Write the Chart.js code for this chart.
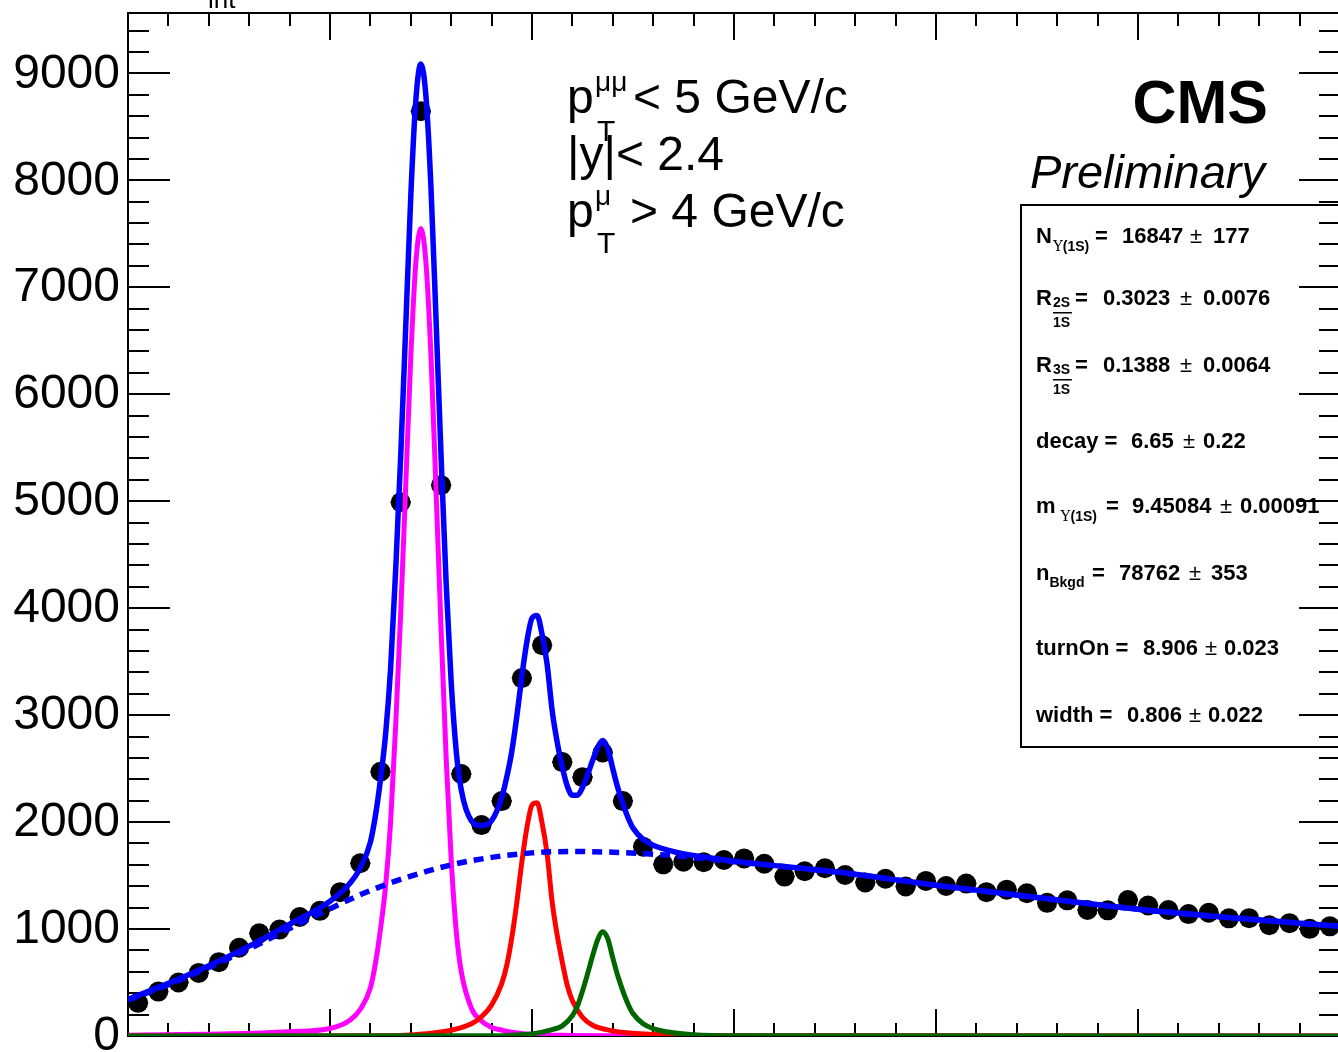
<!DOCTYPE html>
<html>
<head>
<meta charset="utf-8">
<script src="https://cdn.jsdelivr.net/npm/chart.js@4.4.0/dist/chart.umd.min.js"></script>
<style>
  html, body { margin: 0; padding: 0; background: #fff; overflow: hidden; }
</style>
</head>
<body>
<canvas id="massChart" width="1341" height="1052"></canvas>
<script>
// DATA - dimuon mass histogram (0.1 GeV bins)
const binMass = [8.05, 8.15, 8.25, 8.35, 8.45, 8.55, 8.65, 8.75, 8.85, 8.95,
                 9.05, 9.15, 9.25, 9.35, 9.45, 9.55, 9.65, 9.75, 9.85, 9.95,
                 10.05, 10.15, 10.25, 10.35, 10.45, 10.55, 10.65, 10.75, 10.85, 10.95,
                 11.05, 11.15, 11.25, 11.35, 11.45, 11.55, 11.65, 11.75, 11.85, 11.95,
                 12.05, 12.15, 12.25, 12.35, 12.45, 12.55, 12.65, 12.75, 12.85, 12.95,
                 13.05, 13.15, 13.25, 13.35, 13.45, 13.55, 13.65, 13.75, 13.85, 13.95];
const binCounts = [310, 415, 500, 590, 690, 825, 960, 995, 1113, 1170,
                   1345, 1615, 2470, 4990, 8645, 5150, 2449, 1972, 2196, 3346,
                   3654, 2561, 2420, 2650, 2196, 1770, 1605, 1630, 1625, 1645,
                   1660, 1610, 1490, 1540, 1568, 1505, 1435, 1470, 1398, 1450,
                   1402, 1425, 1345, 1368, 1335, 1245, 1268, 1178, 1175, 1271,
                   1220, 1178, 1140, 1152, 1100, 1102, 1035, 1055, 1002, 1025];
const binHalfWidth = 0.05;

// total fit (blue solid)
const fitMass = [8.0, 8.2, 8.4, 8.6, 8.8, 9.0, 9.1, 9.15, 9.2, 9.225,
                 9.25, 9.275, 9.3, 9.325, 9.35, 9.375, 9.4, 9.425, 9.45, 9.475,
                 9.5, 9.525, 9.55, 9.575, 9.6, 9.625, 9.65, 9.7, 9.75, 9.8,
                 9.85, 9.875, 9.9, 9.925, 9.95, 9.975, 10.0, 10.025, 10.05, 10.075,
                 10.1, 10.125, 10.15, 10.175, 10.2, 10.225, 10.25, 10.275, 10.3, 10.325,
                 10.35, 10.375, 10.4, 10.425, 10.45, 10.475, 10.5, 10.55, 10.6, 10.7,
                 10.8, 11.0, 11.5, 12.0, 12.5, 13.0, 13.5, 14.0];
const fitTotal = [343, 492, 657, 840, 1045, 1260, 1430, 1572, 1813, 2061,
                  2400, 2817, 3435, 4352, 5419, 6636, 7855, 8752, 9088, 8785,
                  7927, 6695, 5415, 4234, 3305, 2660, 2299, 2012, 1969, 2013,
                  2230, 2420, 2660, 2990, 3367, 3691, 3907, 3932, 3752, 3473,
                  3039, 2744, 2514, 2335, 2250, 2250, 2323, 2442, 2575, 2699,
                  2763, 2686, 2498, 2318, 2170, 2043, 1944, 1838, 1784, 1724,
                  1687, 1635, 1535, 1410, 1295, 1185, 1100, 1025];

// background (blue dashed)
const bkgMass = [8.0, 8.2, 8.4, 8.6, 8.8, 9.0, 9.2, 9.4, 9.6, 9.8, 10.0,
                 10.2, 10.4, 10.6, 10.8, 11.0, 11.5, 12.0, 12.5, 13.0, 13.5, 14.0];
const bkgVal = [335, 480, 640, 815, 1005, 1190, 1360, 1495, 1600, 1670, 1712,
                1725, 1718, 1700, 1670, 1630, 1535, 1410, 1295, 1185, 1100, 1025];

// Upsilon(1S) (magenta)
const ups1Mass = [8.0, 8.5, 8.8, 9.0, 9.1, 9.15, 9.2, 9.225, 9.25, 9.275,
                  9.3, 9.325, 9.35, 9.375, 9.4, 9.425, 9.45, 9.475, 9.5, 9.525,
                  9.55, 9.575, 9.6, 9.625, 9.65, 9.7, 9.75, 9.8, 9.85, 9.9,
                  10.0, 10.2, 10.5, 14.0];
const ups1Val = [8, 20, 40, 70, 150, 250, 450, 680, 1000, 1400,
                 2000, 2900, 3950, 5150, 6350, 7230, 7550, 7230, 6350, 5100,
                 3800, 2600, 1650, 980, 600, 260, 140, 80, 55, 35,
                 15, 5, 0, 0];

// Upsilon(2S) (red)
const ups2Mass = [8.0, 9.3, 9.4, 9.5, 9.6, 9.7, 9.75, 9.8, 9.85, 9.875,
                  9.9, 9.925, 9.95, 9.975, 10.0, 10.025, 10.05, 10.075, 10.1, 10.125,
                  10.15, 10.175, 10.2, 10.25, 10.3, 10.4, 10.5, 10.7, 11.0, 14.0];
const ups2Val = [0, 3, 10, 25, 55, 115, 180, 290, 490, 660,
                 920, 1250, 1630, 1950, 2160, 2180, 1990, 1700, 1250, 940,
                 690, 470, 330, 175, 100, 48, 25, 8, 2, 0];

// Upsilon(3S) (green)
const ups3Mass = [8.0, 9.8, 9.9, 10.0, 10.1, 10.15, 10.2, 10.225, 10.25, 10.275,
                  10.3, 10.325, 10.35, 10.375, 10.4, 10.425, 10.45, 10.475, 10.5, 10.55,
                  10.6, 10.7, 10.8, 11.0, 14.0];
const ups3Val = [0, 3, 8, 20, 60, 95, 190, 280, 420, 580,
                 750, 900, 975, 910, 730, 560, 420, 300, 210, 115,
                 70, 30, 12, 3, 0];

// axes
const xMin = 8, xMax = 14;
const yMin = 0, yMax = 9564;
const yTickLabels = [0, 1000, 2000, 3000, 4000, 5000, 6000, 7000, 8000, 9000];

function pts(xs, ys) {
    return xs.map((x, i) => ({ x: x, y: ys[i] }));
}

const SANS = '"Liberation Sans", Arial, sans-serif';

// ROOT-like frame, inward ticks, error bars
const rootFrame = {
    id: 'rootFrame',
    beforeDatasetsDraw(chart) {
        const { ctx, chartArea: a, scales: { x, y } } = chart;
        ctx.save();

        // stats box first, so the ticks sit on top of it
        ctx.fillStyle = '#fff';
        ctx.fillRect(1021, 205, 400, 542);
        ctx.strokeStyle = '#000';
        ctx.lineWidth = 2;
        ctx.strokeRect(1021, 205, 400, 542);

        ctx.strokeRect(a.left, a.top, a.right - a.left, a.bottom - a.top);

        // y ticks
        for (let v = 0; v <= yMax; v += 200) {
            const py = Math.round(y.getPixelForValue(v));
            const major = v % 1000 === 0;
            ctx.beginPath();
            ctx.moveTo(a.left, py);
            ctx.lineTo(a.left + (major ? 42 : 21), py);
            ctx.moveTo(a.right, py);
            ctx.lineTo(a.right - (major ? 41 : 21), py);
            ctx.stroke();
        }
        // x ticks
        for (let i = 0; i <= 30; i++) {
            const px = Math.round(x.getPixelForValue(xMin + i * 0.2));
            const major = i % 5 === 0;
            ctx.beginPath();
            ctx.moveTo(px, a.bottom);
            ctx.lineTo(px, a.bottom - (major ? 27 : 13));
            ctx.moveTo(px, a.top);
            ctx.lineTo(px, a.top + (major ? 27 : 13));
            ctx.stroke();
        }
        // y labels
        ctx.fillStyle = '#000';
        ctx.font = '48px ' + SANS;
        ctx.textAlign = 'right';
        ctx.textBaseline = 'middle';
        yTickLabels.forEach(v => ctx.fillText(String(v), 120, y.getPixelForValue(v) + 1));

        // horizontal error bars of the data points
        ctx.lineWidth = 2;
        binMass.forEach((m, i) => {
            const py = y.getPixelForValue(binCounts[i]);
            ctx.beginPath();
            ctx.moveTo(x.getPixelForValue(m - binHalfWidth), py);
            ctx.lineTo(x.getPixelForValue(m + binHalfWidth), py);
            ctx.stroke();
        });
        ctx.restore();
    },
    afterDatasetsDraw(chart) {
        const ctx = chart.ctx;
        ctx.save();
        ctx.fillStyle = '#000';
        ctx.textAlign = 'left';
        ctx.textBaseline = 'alphabetic';
        // draw text, return x where it ends
        const t = (s, x, y, f) => { ctx.font = f; ctx.fillText(s, x, y); return x + ctx.measureText(s).width; };

        // cropped lumi label
        t('int', 208, 8, '26px ' + SANS);

        // cuts
        const big = '48px ' + SANS;
        t('p', 567, 113, big);
        t('\u03bc\u03bc', 595, 91, '28px ' + SANS);
        t('T', 597, 141, '30px ' + SANS);
        t('< 5 GeV/c', 633, 113, big);
        t('|y|< 2.4', 567, 170, big);
        t('p', 567, 227, big);
        t('\u03bc', 595, 205, '28px ' + SANS);
        t('T', 597, 253, '30px ' + SANS);
        t('> 4 GeV/c', 630, 227, big);

        // CMS Preliminary
        ctx.textAlign = 'right';
        t('CMS', 1268, 123, 'bold 61px ' + SANS);
        t('Preliminary', 1265, 188, 'italic 47px ' + SANS);
        ctx.textAlign = 'left';

        // fit parameters
        const B = 'bold 22px ' + SANS, N = '22px ' + SANS;
        const S = 'bold 14px ' + SANS, U = '15px "DejaVu Serif", serif';
        const pm = '\u00b1';
        const ups = '\u03a5';
        let e;

        e = t('N', 1036, 243, B); e = t(ups, e + 1, 251, U); t('(1S)', e, 251, S);
        t('=', 1095, 243, B); t('16847', 1122, 243, B); t(pm, 1190, 243, N); t('177', 1213, 243, B);

        e = t('R', 1036, 305, B); t('2S', e + 1, 307, S);
        ctx.fillRect(e + 1, 312, 19, 1.5); t('1S', e + 1, 327, S);
        t('=', 1075, 305, B); t('0.3023', 1103, 305, B); t(pm, 1180, 305, N); t('0.0076', 1203, 305, B);

        e = t('R', 1036, 372, B); t('3S', e + 1, 374, S);
        ctx.fillRect(e + 1, 379, 19, 1.5); t('1S', e + 1, 394, S);
        t('=', 1075, 372, B); t('0.1388', 1103, 372, B); t(pm, 1180, 372, N); t('0.0064', 1203, 372, B);

        t('decay =', 1036, 448, B); t('6.65', 1131, 448, B); t(pm, 1183, 448, N); t('0.22', 1203, 448, B);

        e = t('m', 1036, 513, B); e = t(ups, e + 5, 521, U); t('(1S)', e, 521, S);
        t('=', 1106, 513, B); t('9.45084', 1132, 513, B); t(pm, 1220, 513, N); t('0.00091', 1240, 513, B);

        e = t('n', 1036, 580, B); t('Bkgd', e, 587, S);
        t('=', 1092, 580, B); t('78762', 1119, 580, B); t(pm, 1189, 580, N); t('353', 1211, 580, B);

        t('turnOn =', 1036, 655, B); t('8.906', 1143, 655, B); t(pm, 1205, 655, N); t('0.023', 1224, 655, B);

        t('width =', 1036, 722, B); t('0.806', 1127, 722, B); t(pm, 1189, 722, N); t('0.022', 1208, 722, B);

        ctx.restore();
    }
};

const curve = (data, color, order, extra) => Object.assign({
    type: 'line',
    data: data,
    borderColor: color,
    borderWidth: 5,
    pointRadius: 0,
    fill: false,
    cubicInterpolationMode: 'monotone',
    order: order
}, extra || {});

new Chart(document.getElementById('massChart'), {
    type: 'line',
    data: {
        datasets: [
            curve(pts(fitMass, fitTotal), '#0000ff', 1, { borderWidth: 5.5 }),
            curve(pts(bkgMass, bkgVal), '#0000ff', 2, { borderDash: [10, 7], borderWidth: 5.5 }),
            curve(pts(ups3Mass, ups3Val), '#006600', 3),
            curve(pts(ups2Mass, ups2Val), '#ff0000', 4),
            curve(pts(ups1Mass, ups1Val), '#ff00ff', 5),
            {
                type: 'line',
                data: pts(binMass, binCounts),
                showLine: false,
                pointRadius: 10,
                pointBackgroundColor: '#000',
                pointBorderWidth: 0,
                order: 10
            }
        ]
    },
    options: {
        responsive: false,
        devicePixelRatio: 1,
        animation: false,
        layout: { autoPadding: false, padding: { left: 128, top: 13, right: 1, bottom: 16 } },
        scales: {
            x: { type: 'linear', min: xMin, max: xMax, display: false },
            y: { type: 'linear', min: yMin, max: yMax, display: false }
        },
        plugins: {
            legend: { display: false },
            tooltip: { enabled: false }
        }
    },
    plugins: [rootFrame]
});
</script>
</body>
</html>
